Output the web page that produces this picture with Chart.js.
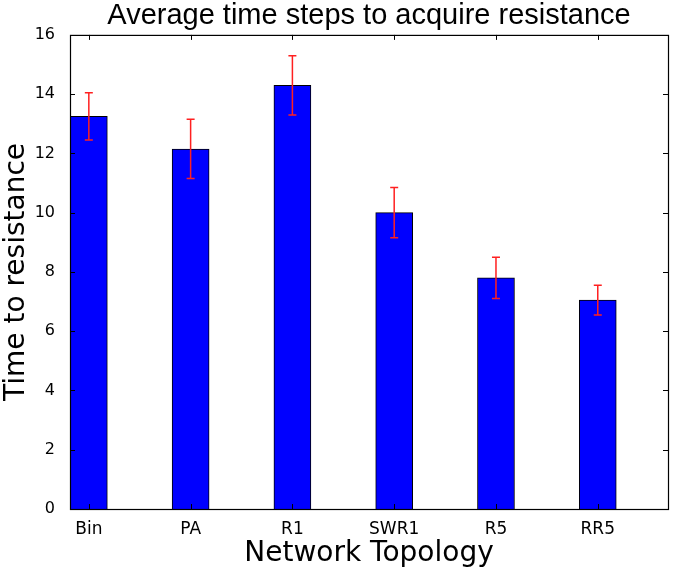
<!DOCTYPE html>
<html lang="en">
<head>
    <meta charset="UTF-8">
    <title>Average time steps to acquire resistance</title>
    <script src="https://cdn.jsdelivr.net/npm/chart.js"></script>
    <style>
        html, body { margin: 0; padding: 0; background: #fff; }
        #wrap { width: 685px; height: 579px; }
    </style>
</head>
<body>
    <div id="wrap"><canvas id="resistanceChart"></canvas></div>

    <script>
        const topologies = ['Bin', 'PA', 'R1', 'SWR1', 'R5', 'RR5'];
        const meanSteps = [13.25, 12.15, 14.3, 10.0, 7.8, 7.05];
        const stepErrors = [0.8, 1.0, 1.0, 0.85, 0.7, 0.5];
        const yTicks = [0, 2, 4, 6, 8, 10, 12, 14, 16];

        // matplotlib-ish frame, inward ticks and error bars
        const framePlugin = {
            id: 'frame',
            afterLayout(chart) {
                // centre the title over the plot area, not the whole canvas
                if (chart.titleBlock) {
                    chart.titleBlock.left = chart.chartArea.left;
                    chart.titleBlock.right = chart.chartArea.right;
                }
            },
            afterDatasetsDraw(chart) {
                const ctx = chart.ctx;
                const area = chart.chartArea;
                const xs = chart.scales.x;
                const ys = chart.scales.y;

                ctx.save();
                ctx.strokeStyle = '#ff2020';
                ctx.lineWidth = 1.5;
                meanSteps.forEach((m, i) => {
                    const x = xs.getPixelForValue(i);
                    const top = ys.getPixelForValue(m + stepErrors[i]);
                    const bot = ys.getPixelForValue(m - stepErrors[i]);
                    ctx.beginPath();
                    ctx.moveTo(x, top); ctx.lineTo(x, bot);
                    ctx.moveTo(x - 4, top); ctx.lineTo(x + 4, top);
                    ctx.moveTo(x - 4, bot); ctx.lineTo(x + 4, bot);
                    ctx.stroke();
                });

                ctx.strokeStyle = '#000';
                ctx.lineWidth = 1;
                ctx.beginPath();
                topologies.forEach((t, i) => {
                    const x = Math.round(xs.getPixelForValue(i)) + 0.5;
                    ctx.moveTo(x, area.bottom); ctx.lineTo(x, area.bottom - 5);
                    ctx.moveTo(x, area.top); ctx.lineTo(x, area.top + 5);
                });
                yTicks.forEach(v => {
                    const y = Math.round(ys.getPixelForValue(v)) + 0.5;
                    ctx.moveTo(area.left, y); ctx.lineTo(area.left + 5, y);
                    ctx.moveTo(area.right, y); ctx.lineTo(area.right - 5, y);
                });
                ctx.stroke();

                ctx.lineWidth = 1.2;
                ctx.strokeRect(area.left + 0.5, area.top + 0.5, area.right - area.left, area.bottom - area.top);
                ctx.restore();
            }
        };

        const ctx = document.getElementById('resistanceChart').getContext('2d');
        new Chart(ctx, {
            type: 'bar',
            data: {
                datasets: [{
                    data: meanSteps.map((v, i) => ({ x: i, y: v })),
                    backgroundColor: '#0000ff',
                    borderColor: '#000000',
                    borderWidth: 1,
                    barThickness: 37
                }]
            },
            options: {
                responsive: true,
                maintainAspectRatio: false,
                animation: false,
                layout: { padding: { left: 0, right: 17, top: 0, bottom: 0 } },
                plugins: {
                    legend: { display: false },
                    tooltip: { enabled: false },
                    title: {
                        display: true,
                        text: 'Average time steps to acquire resistance',
                        color: '#000',
                        font: { family: 'Liberation Sans', size: 29, weight: 'normal', lineHeight: 1.1 },
                        padding: { top: 0, bottom: 3 }
                    }
                },
                scales: {
                    x: {
                        type: 'linear',
                        offset: false,
                        min: -0.185,
                        max: 5.69,
                        grid: { display: false },
                        border: { display: false },
                        afterBuildTicks: scale => {
                            scale.ticks = topologies.map((t, i) => ({ value: i }));
                        },
                        afterFit: scale => { scale.height = 70; },
                        ticks: {
                            color: '#000',
                            padding: 2,
                            autoSkip: false,
                            maxRotation: 0,
                            font: { family: 'DejaVu Sans', size: 17 },
                            callback: (v) => topologies[v]
                        },
                        title: {
                            display: true,
                            text: 'Network Topology',
                            color: '#000',
                            font: { family: 'DejaVu Sans', size: 28 },
                            padding: { top: 0, bottom: 8 }
                        }
                    },
                    y: {
                        min: 0,
                        max: 16,
                        grid: { display: false },
                        border: { display: false },
                        afterBuildTicks: scale => {
                            scale.ticks = yTicks.map(v => ({ value: v }));
                        },
                        afterFit: scale => { scale.width = 70; },
                        ticks: {
                            color: '#000',
                            padding: 7,
                            font: { family: 'DejaVu Sans', size: 16 }
                        },
                        title: {
                            display: true,
                            text: 'Time to resistance',
                            color: '#000',
                            font: { family: 'DejaVu Sans', size: 28 },
                            padding: { top: 0, bottom: 2 }
                        }
                    }
                }
            },
            plugins: [framePlugin]
        });
    </script>
</body>
</html>
